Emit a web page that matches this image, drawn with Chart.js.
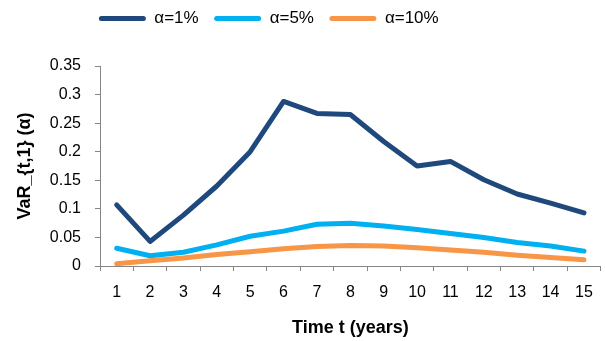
<!DOCTYPE html>
<html>
<head>
<meta charset="utf-8">
<script src="https://cdn.jsdelivr.net/npm/chart.js@4/dist/chart.umd.min.js"></script>
<style>
  html, body { margin: 0; padding: 0; background: #fff; }
  #wrap { width: 605px; height: 341px; }
</style>
</head>
<body>
<div id="wrap"><canvas id="varChart"></canvas></div>
<script>
const years = ['1','2','3','4','5','6','7','8','9','10','11','12','13','14','15'];
const var1 = [0.107, 0.043, 0.089, 0.140, 0.200, 0.288, 0.267, 0.265, 0.218, 0.175, 0.183, 0.151, 0.126, 0.110, 0.093];
const var5 = [0.031, 0.018, 0.024, 0.037, 0.052, 0.061, 0.073, 0.075, 0.070, 0.064, 0.057, 0.050, 0.041, 0.035, 0.026];
const var10 = [0.004, 0.009, 0.014, 0.020, 0.025, 0.030, 0.034, 0.036, 0.035, 0.032, 0.028, 0.024, 0.019, 0.015, 0.011];
const seriesNames = ['α=1%', 'α=5%', 'α=10%'];
const seriesColors = ['#1F497D', '#00B0F0', '#F79646'];

const axisGrey = '#868686';
const fontFamily = "'Liberation Sans', Arial, sans-serif";

// leave room under the legend and nudge it a bit to the left
const legendGap = {
  id: 'legendGap',
  beforeInit(chart) {
    const fit = chart.legend.fit;
    chart.legend.fit = function () {
      fit.bind(chart.legend)();
      this.height += 31;
    };
  },
  afterLayout(chart) {
    chart.legend.left -= 27;
    chart.legend.right -= 27;
    chart.legend.top += 2;
  }
};

function line(label, data, color) {
  return {
    label: label,
    data: data,
    borderColor: color,
    backgroundColor: color,
    borderWidth: 5,
    borderCapStyle: 'round',
    borderJoinStyle: 'round',
    pointRadius: 0,
    tension: 0,
    fill: false
  };
}

new Chart(document.getElementById('varChart').getContext('2d'), {
  type: 'line',
  data: {
    labels: years,
    datasets: [
      line(seriesNames[0], var1, seriesColors[0]),
      line(seriesNames[1], var5, seriesColors[1]),
      line(seriesNames[2], var10, seriesColors[2])
    ]
  },
  plugins: [legendGap],
  options: {
    responsive: true,
    maintainAspectRatio: false,
    animation: false,
    layout: { padding: { top: 2, right: 4, bottom: 0, left: 0 } },
    plugins: {
      legend: {
        display: true,
        position: 'top',
        labels: {
          color: '#000',
          boxWidth: 47,
          boxHeight: 5,
          padding: 6,
          useBorderRadius: true,
          borderRadius: 2.5,
          font: { family: fontFamily, size: 17 },
          generateLabels: chart =>
            Chart.defaults.plugins.legend.labels.generateLabels(chart).map(item => ({
              ...item,
              text: item.text + '  ',
              lineWidth: 0,
              strokeStyle: 'rgba(0,0,0,0)'
            }))
        }
      },
      tooltip: { enabled: false }
    },
    scales: {
      x: {
        offset: true,
        grid: { offset: true, drawOnChartArea: false, color: axisGrey, tickLength: 5 },
        border: { color: axisGrey },
        ticks: { color: '#000', padding: 12, maxRotation: 0, font: { family: fontFamily, size: 16 } },
        title: {
          display: true,
          text: 'Time t (years)',
          color: '#000',
          padding: { top: 0, bottom: 2 },
          font: { family: fontFamily, size: 18, weight: 'bold' }
        },
        afterFit: s => { s.height = 75; }
      },
      y: {
        min: 0,
        max: 0.35,
        grid: { drawOnChartArea: false, color: axisGrey, tickLength: 5 },
        border: { color: axisGrey },
        ticks: {
          stepSize: 0.05,
          color: '#000',
          padding: 14,
          font: { family: fontFamily, size: 16 },
          callback: v => String(Number(v.toFixed(2)))
        },
        title: {
          display: true,
          text: 'VaR_{t,1} (α)',
          color: '#000',
          padding: { top: 14, bottom: 0 },
          font: { family: fontFamily, size: 18, weight: 'bold' }
        },
        afterFit: s => { s.width = 100; }
      }
    }
  }
});
</script>
</body>
</html>
